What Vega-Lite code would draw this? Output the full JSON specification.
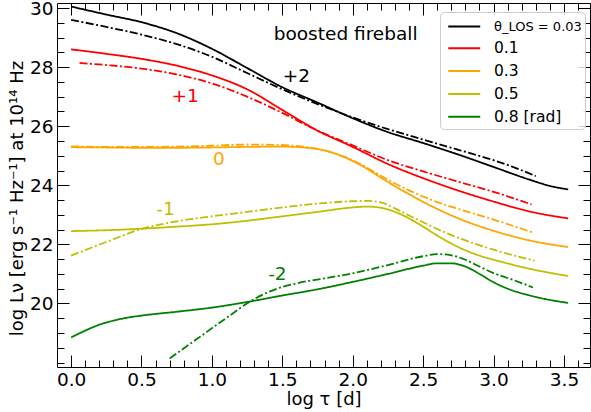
{
"$schema":"https://vega.github.io/schema/vega-lite/v6.json",
"width":533,"height":364,
"autosize":{"type":"none"},
"padding":{"left":57,"top":3,"right":1,"bottom":45},
"background":"white",
"config":{
 "font":"DejaVu Sans",
 "view":{"stroke":"black","strokeWidth":1},
 "axis":{"domain":false,"grid":false,"tickColor":"black","tickWidth":1,"labelColor":"black","labelFontSize":18.5,"labelFont":"DejaVu Sans","titleFont":"DejaVu Sans","titleFontSize":18,"titleFontWeight":"normal","titleColor":"black","labelOverlap":false,"labelFlush":false}
},
"datasets":{
"lines":[
{"t":"0.03","k":"s","x":0,"y":30.05},{"t":"0.03","k":"s","x":0.25,"y":29.78},{"t":"0.03","k":"s","x":0.5,"y":29.52},{"t":"0.03","k":"s","x":0.75,"y":29.15},{"t":"0.03","k":"s","x":1.0,"y":28.62},{"t":"0.03","k":"s","x":1.25,"y":27.97},{"t":"0.03","k":"s","x":1.5,"y":27.32},{"t":"0.03","k":"s","x":1.75,"y":26.8},{"t":"0.03","k":"s","x":2.0,"y":26.27},{"t":"0.03","k":"s","x":2.25,"y":25.8},{"t":"0.03","k":"s","x":2.5,"y":25.43},{"t":"0.03","k":"s","x":2.75,"y":25.04},{"t":"0.03","k":"s","x":3.0,"y":24.62},{"t":"0.03","k":"s","x":3.25,"y":24.2},{"t":"0.03","k":"s","x":3.4,"y":23.98},{"t":"0.03","k":"s","x":3.53,"y":23.86},
{"t":"0.03","k":"d","x":0,"y":29.6},{"t":"0.03","k":"d","x":0.25,"y":29.36},{"t":"0.03","k":"d","x":0.5,"y":29.1},{"t":"0.03","k":"d","x":0.75,"y":28.78},{"t":"0.03","k":"d","x":1.0,"y":28.35},{"t":"0.03","k":"d","x":1.25,"y":27.8},{"t":"0.03","k":"d","x":1.5,"y":27.25},{"t":"0.03","k":"d","x":1.75,"y":26.75},{"t":"0.03","k":"d","x":2.0,"y":26.3},{"t":"0.03","k":"d","x":2.25,"y":25.9},{"t":"0.03","k":"d","x":2.5,"y":25.55},{"t":"0.03","k":"d","x":2.75,"y":25.2},{"t":"0.03","k":"d","x":3.0,"y":24.85},{"t":"0.03","k":"d","x":3.15,"y":24.6},{"t":"0.03","k":"d","x":3.3,"y":24.31},
{"t":"0.1","k":"s","x":0,"y":28.6},{"t":"0.1","k":"s","x":0.25,"y":28.45},{"t":"0.1","k":"s","x":0.5,"y":28.28},{"t":"0.1","k":"s","x":0.75,"y":28.05},{"t":"0.1","k":"s","x":1.0,"y":27.72},{"t":"0.1","k":"s","x":1.25,"y":27.25},{"t":"0.1","k":"s","x":1.5,"y":26.55},{"t":"0.1","k":"s","x":1.75,"y":25.85},{"t":"0.1","k":"s","x":2.0,"y":25.3},{"t":"0.1","k":"s","x":2.25,"y":24.72},{"t":"0.1","k":"s","x":2.5,"y":24.24},{"t":"0.1","k":"s","x":2.75,"y":23.82},{"t":"0.1","k":"s","x":3.0,"y":23.45},{"t":"0.1","k":"s","x":3.25,"y":23.12},{"t":"0.1","k":"s","x":3.53,"y":22.88},
{"t":"0.1","k":"d","x":0.06,"y":28.14},{"t":"0.1","k":"d","x":0.25,"y":28.07},{"t":"0.1","k":"d","x":0.5,"y":27.95},{"t":"0.1","k":"d","x":0.75,"y":27.75},{"t":"0.1","k":"d","x":1.0,"y":27.45},{"t":"0.1","k":"d","x":1.25,"y":27.0},{"t":"0.1","k":"d","x":1.5,"y":26.45},{"t":"0.1","k":"d","x":1.75,"y":25.85},{"t":"0.1","k":"d","x":2.0,"y":25.35},{"t":"0.1","k":"d","x":2.25,"y":24.85},{"t":"0.1","k":"d","x":2.5,"y":24.47},{"t":"0.1","k":"d","x":2.75,"y":24.12},{"t":"0.1","k":"d","x":3.0,"y":23.78},{"t":"0.1","k":"d","x":3.27,"y":23.35},
{"t":"0.3","k":"s","x":0,"y":25.29},{"t":"0.3","k":"s","x":0.25,"y":25.28},{"t":"0.3","k":"s","x":0.5,"y":25.27},{"t":"0.3","k":"s","x":0.75,"y":25.27},{"t":"0.3","k":"s","x":1.0,"y":25.28},{"t":"0.3","k":"s","x":1.25,"y":25.3},{"t":"0.3","k":"s","x":1.5,"y":25.31},{"t":"0.3","k":"s","x":1.65,"y":25.28},{"t":"0.3","k":"s","x":1.8,"y":25.18},{"t":"0.3","k":"s","x":1.9,"y":25.03},{"t":"0.3","k":"s","x":2.0,"y":24.82},{"t":"0.3","k":"s","x":2.1,"y":24.56},{"t":"0.3","k":"s","x":2.2,"y":24.26},{"t":"0.3","k":"s","x":2.3,"y":23.97},{"t":"0.3","k":"s","x":2.4,"y":23.7},{"t":"0.3","k":"s","x":2.5,"y":23.44},{"t":"0.3","k":"s","x":2.6,"y":23.2},{"t":"0.3","k":"s","x":2.75,"y":22.88},{"t":"0.3","k":"s","x":3.0,"y":22.46},{"t":"0.3","k":"s","x":3.25,"y":22.14},{"t":"0.3","k":"s","x":3.53,"y":21.91},
{"t":"0.3","k":"d","x":0,"y":25.32},{"t":"0.3","k":"d","x":0.25,"y":25.3},{"t":"0.3","k":"d","x":0.5,"y":25.3},{"t":"0.3","k":"d","x":0.75,"y":25.31},{"t":"0.3","k":"d","x":1.0,"y":25.34},{"t":"0.3","k":"d","x":1.25,"y":25.38},{"t":"0.3","k":"d","x":1.45,"y":25.37},{"t":"0.3","k":"d","x":1.6,"y":25.33},{"t":"0.3","k":"d","x":1.72,"y":25.26},{"t":"0.3","k":"d","x":1.8,"y":25.18},{"t":"0.3","k":"d","x":1.9,"y":25.03},{"t":"0.3","k":"d","x":2.0,"y":24.85},{"t":"0.3","k":"d","x":2.1,"y":24.6},{"t":"0.3","k":"d","x":2.2,"y":24.32},{"t":"0.3","k":"d","x":2.3,"y":24.06},{"t":"0.3","k":"d","x":2.4,"y":23.83},{"t":"0.3","k":"d","x":2.5,"y":23.62},{"t":"0.3","k":"d","x":2.6,"y":23.43},{"t":"0.3","k":"d","x":2.75,"y":23.2},{"t":"0.3","k":"d","x":3.0,"y":22.84},{"t":"0.3","k":"d","x":3.28,"y":22.4},
{"t":"0.5","k":"s","x":0,"y":22.45},{"t":"0.5","k":"s","x":0.25,"y":22.48},{"t":"0.5","k":"s","x":0.5,"y":22.53},{"t":"0.5","k":"s","x":0.75,"y":22.6},{"t":"0.5","k":"s","x":1.0,"y":22.68},{"t":"0.5","k":"s","x":1.25,"y":22.8},{"t":"0.5","k":"s","x":1.5,"y":22.95},{"t":"0.5","k":"s","x":1.75,"y":23.1},{"t":"0.5","k":"s","x":2.0,"y":23.25},{"t":"0.5","k":"s","x":2.1,"y":23.28},{"t":"0.5","k":"s","x":2.2,"y":23.24},{"t":"0.5","k":"s","x":2.3,"y":23.1},{"t":"0.5","k":"s","x":2.4,"y":22.88},{"t":"0.5","k":"s","x":2.5,"y":22.6},{"t":"0.5","k":"s","x":2.6,"y":22.3},{"t":"0.5","k":"s","x":2.7,"y":22.03},{"t":"0.5","k":"s","x":2.8,"y":21.8},{"t":"0.5","k":"s","x":2.9,"y":21.62},{"t":"0.5","k":"s","x":3.0,"y":21.48},{"t":"0.5","k":"s","x":3.25,"y":21.18},{"t":"0.5","k":"s","x":3.53,"y":20.93},
{"t":"0.5","k":"d","x":0,"y":21.62},{"t":"0.5","k":"d","x":0.25,"y":22.08},{"t":"0.5","k":"d","x":0.5,"y":22.52},{"t":"0.5","k":"d","x":0.75,"y":22.78},{"t":"0.5","k":"d","x":1.0,"y":22.95},{"t":"0.5","k":"d","x":1.25,"y":23.1},{"t":"0.5","k":"d","x":1.5,"y":23.25},{"t":"0.5","k":"d","x":1.75,"y":23.38},{"t":"0.5","k":"d","x":2.0,"y":23.46},{"t":"0.5","k":"d","x":2.1,"y":23.47},{"t":"0.5","k":"d","x":2.2,"y":23.42},{"t":"0.5","k":"d","x":2.3,"y":23.22},{"t":"0.5","k":"d","x":2.4,"y":22.98},{"t":"0.5","k":"d","x":2.5,"y":22.75},{"t":"0.5","k":"d","x":2.6,"y":22.52},{"t":"0.5","k":"d","x":2.75,"y":22.22},{"t":"0.5","k":"d","x":3.0,"y":21.82},{"t":"0.5","k":"d","x":3.29,"y":21.45},
{"t":"0.8","k":"s","x":0,"y":18.85},{"t":"0.8","k":"s","x":0.1,"y":19.08},{"t":"0.8","k":"s","x":0.2,"y":19.28},{"t":"0.8","k":"s","x":0.3,"y":19.42},{"t":"0.8","k":"s","x":0.4,"y":19.52},{"t":"0.8","k":"s","x":0.5,"y":19.59},{"t":"0.8","k":"s","x":0.75,"y":19.72},{"t":"0.8","k":"s","x":1.0,"y":19.86},{"t":"0.8","k":"s","x":1.25,"y":20.05},{"t":"0.8","k":"s","x":1.5,"y":20.27},{"t":"0.8","k":"s","x":1.75,"y":20.48},{"t":"0.8","k":"s","x":2.0,"y":20.73},{"t":"0.8","k":"s","x":2.25,"y":21.0},{"t":"0.8","k":"s","x":2.5,"y":21.28},{"t":"0.8","k":"s","x":2.6,"y":21.36},{"t":"0.8","k":"s","x":2.7,"y":21.36},{"t":"0.8","k":"s","x":2.8,"y":21.25},{"t":"0.8","k":"s","x":2.9,"y":21.0},{"t":"0.8","k":"s","x":3.0,"y":20.72},{"t":"0.8","k":"s","x":3.1,"y":20.5},{"t":"0.8","k":"s","x":3.25,"y":20.28},{"t":"0.8","k":"s","x":3.4,"y":20.12},{"t":"0.8","k":"s","x":3.53,"y":20.02},
{"t":"0.8","k":"d","x":0.7,"y":18.14},{"t":"0.8","k":"d","x":0.9,"y":18.82},{"t":"0.8","k":"d","x":1.1,"y":19.5},{"t":"0.8","k":"d","x":1.3,"y":20.15},{"t":"0.8","k":"d","x":1.45,"y":20.48},{"t":"0.8","k":"d","x":1.6,"y":20.68},{"t":"0.8","k":"d","x":1.8,"y":20.85},{"t":"0.8","k":"d","x":2.0,"y":21.02},{"t":"0.8","k":"d","x":2.25,"y":21.3},{"t":"0.8","k":"d","x":2.5,"y":21.6},{"t":"0.8","k":"d","x":2.6,"y":21.67},{"t":"0.8","k":"d","x":2.7,"y":21.63},{"t":"0.8","k":"d","x":2.8,"y":21.48},{"t":"0.8","k":"d","x":2.9,"y":21.25},{"t":"0.8","k":"d","x":3.0,"y":21.03},{"t":"0.8","k":"d","x":3.15,"y":20.78},{"t":"0.8","k":"d","x":3.28,"y":20.54}
],
"labels":[
{"x":1.95,"y":29.13,"txt":"boosted fireball","t":"0.03"},
{"x":1.6,"y":27.69,"txt":"+2","t":"0.03"},
{"x":0.81,"y":27.03,"txt":"+1","t":"0.1"},
{"x":1.05,"y":24.9,"txt":"0","t":"0.3"},
{"x":0.67,"y":23.21,"txt":"-1","t":"0.5"},
{"x":1.465,"y":21.01,"txt":"-2","t":"0.8"}
]
},
"layer":[
{
 "data":{"name":"lines"},
 "mark":{"type":"line","strokeWidth":1.8,"interpolate":"monotone"},
 "encoding":{
  "x":{"field":"x","type":"quantitative","scale":{"domain":[-0.1,3.685],"nice":false,"zero":false},
   "axis":{"orient":"bottom","values":[0,0.1,0.2,0.3,0.4,0.5,0.6,0.7,0.8,0.9,1,1.1,1.2,1.3,1.4,1.5,1.6,1.7,1.8,1.9,2,2.1,2.2,2.3,2.4,2.5,2.6,2.7,2.8,2.9,3,3.1,3.2,3.3,3.4,3.5,3.6],
    "labelExpr":"abs(datum.value*2 - round(datum.value*2)) < 0.01 ? format(datum.value, '.1f') : ''",
    "tickSize":{"condition":{"test":"abs(datum.value*2 - round(datum.value*2)) < 0.01","value":-12},"value":-7},
    "labelPadding":15,"title":"log τ [d]","titlePadding":-3}},
  "y":{"field":"y","type":"quantitative","scale":{"domain":[17.85,30.17],"nice":false,"zero":false},
   "axis":{"orient":"left","values":[18,18.5,19,19.5,20,20.5,21,21.5,22,22.5,23,23.5,24,24.5,25,25.5,26,26.5,27,27.5,28,28.5,29,29.5,30],
    "labelExpr":"(datum.value >= 20 && abs(datum.value/2 - round(datum.value/2)) < 0.01) ? format(datum.value, 'd') : ''",
    "tickSize":{"condition":{"test":"datum.value >= 20 && abs(datum.value/2 - round(datum.value/2)) < 0.01","value":-12},"value":-7},
    "labelPadding":16,"title":"log Lν [erg s⁻¹ Hz⁻¹] at 10¹⁴ Hz","titlePadding":3,"titleY":195}},
  "color":{"field":"t","type":"nominal","scale":{"domain":["0.03","0.1","0.3","0.5","0.8"],"range":["#000000","#ff0000","#ffa500","#bfbf00","#008000"]},
   "legend":{"orient":"none","legendX":383,"legendY":9,"title":null,"symbolType":"M-0.61,0H2.51","symbolSize":420,"symbolStrokeWidth":2,"labelFontSize":15.5,"labelFont":"DejaVu Sans","labelColor":"black","labelOffset":28,"rowPadding":2.8,"padding":3,"fillColor":"rgba(255,255,255,0.8)","strokeColor":"#cccccc","cornerRadius":4,
    "labelExpr":"datum.value == '0.03' ? 'θ_LOS = 0.03' : (datum.value == '0.8' ? '0.8 [rad]' : datum.value)",
    "encode":{"labels":{"update":{"fontSize":{"signal":"datum.value == '0.03' ? 13 : 15.5"}}}}}},
  "strokeDash":{"field":"k","type":"nominal","scale":{"domain":["s","d"],"range":[[1,0],[8,2.5,2,2.5]]},"legend":null}
 }
},
{
 "data":{"name":"labels"},
 "mark":{"type":"text","fontSize":18.5,"align":"center","baseline":"middle","font":"DejaVu Sans"},
 "encoding":{
  "x":{"field":"x","type":"quantitative","axis":null},
  "y":{"field":"y","type":"quantitative","axis":null},
  "text":{"field":"txt"},
  "color":{"field":"t","type":"nominal","legend":null}
 }
},
{
 "data":{"name":"lines"},
 "mark":{"type":"point","opacity":0},
 "encoding":{
  "x":{"field":"x","type":"quantitative",
   "axis":{"orient":"top","labels":false,"title":null,"values":[0,0.1,0.2,0.3,0.4,0.5,0.6,0.7,0.8,0.9,1,1.1,1.2,1.3,1.4,1.5,1.6,1.7,1.8,1.9,2,2.1,2.2,2.3,2.4,2.5,2.6,2.7,2.8,2.9,3,3.1,3.2,3.3,3.4,3.5,3.6],
    "tickSize":{"condition":{"test":"abs(datum.value*2 - round(datum.value*2)) < 0.01","value":-12},"value":-7}}},
  "y":{"field":"y","type":"quantitative",
   "axis":{"orient":"right","labels":false,"title":null,"values":[18,18.5,19,19.5,20,20.5,21,21.5,22,22.5,23,23.5,24,24.5,25,25.5,26,26.5,27,27.5,28,28.5,29,29.5,30],
    "tickSize":{"condition":{"test":"datum.value >= 20 && abs(datum.value/2 - round(datum.value/2)) < 0.01","value":-12},"value":-7}}}
 }
}
],
"resolve":{"axis":{"x":"independent","y":"independent"}}
}
